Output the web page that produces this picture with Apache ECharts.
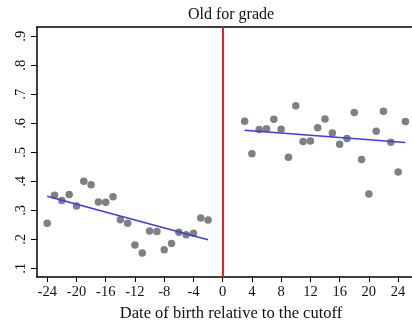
<!DOCTYPE html>
<html>
<head>
<meta charset="utf-8">
<script src="https://cdn.jsdelivr.net/npm/echarts@6/dist/echarts.min.js"></script>
<style>html,body{margin:0;padding:0;background:#fff}#c{width:412px;height:327px}</style>
</head>
<body>
<div id="c"></div>
<script>
// Data
var leftX = [-24,-23,-22,-21,-20,-19,-18,-17,-16,-15,-14,-13,-12,-11,-10,-9,-8,-7,-6,-5,-4,-3,-2];
var leftY = [0.256,0.352,0.334,0.355,0.315,0.400,0.388,0.329,0.328,0.347,0.268,0.256,0.181,0.153,0.229,0.227,0.164,0.186,0.225,0.216,0.221,0.274,0.267];
var rightX = [3,4,5,6,7,8,9,10,11,12,13,14,15,16,17,18,19,20,21,22,23,24,25];
var rightY = [0.607,0.495,0.579,0.581,0.614,0.580,0.483,0.661,0.537,0.539,0.585,0.615,0.567,0.528,0.548,0.637,0.475,0.356,0.573,0.642,0.535,0.432,0.606];
var leftFitX = [-24,-2];
var leftFitY = [0.349,0.199];
var rightFitX = [3,25];
var rightFitY = [0.576,0.534];
var xTicks = [-24,-20,-16,-12,-8,-4,0,4,8,12,16,20,24];
var yTicks = [0.1,0.2,0.3,0.4,0.5,0.6,0.7,0.8,0.9];
var cutoff = 0;
var titleText = 'Old for grade';
var xTitle = 'Date of birth relative to the cutoff';

function pairs(xs, ys){ return xs.map(function(x,i){ return [x, ys[i]]; }); }
var FONT = '"Liberation Serif","Times New Roman",serif';

var chart = echarts.init(document.getElementById('c'), null, {renderer:'canvas'});
chart.setOption({
  animation:false,
  backgroundColor:'#fff',
  title:{text:titleText, left:226, top:2, textAlign:'center',
    textStyle:{fontFamily:FONT, fontSize:16, fontWeight:'normal', color:'#111'}},
  grid:{left:37, right:0, top:27, bottom:40},
  xAxis:[{
    type:'value', min:-25.4, max:25.9,
    axisLine:{show:true, onZero:false, lineStyle:{color:'#000', width:1.5}},
    axisTick:{show:true, customValues:xTicks, length:5, lineStyle:{color:'#000', width:1}},
    axisLabel:{customValues:xTicks, margin:8, fontFamily:FONT, fontSize:14.5, color:'#111'},
    splitLine:{show:false},
    name:xTitle, nameLocation:'middle', nameGap:26,
    nameTextStyle:{fontFamily:FONT, fontSize:16.5, color:'#111', padding:[0,0,0,13]}
  },{
    type:'value', position:'top', min:-25.4, max:25.9,
    axisLine:{show:true, onZero:false, lineStyle:{color:'#000', width:1.5}},
    axisTick:{show:false}, axisLabel:{show:false}, splitLine:{show:false}
  }],
  yAxis:{
    type:'value', min:0.07, max:0.932,
    axisLine:{show:true, onZero:false, lineStyle:{color:'#000', width:1.5}},
    axisTick:{show:true, customValues:yTicks, length:6, lineStyle:{color:'#000', width:1}},
    axisLabel:{customValues:yTicks, rotate:90, margin:8, fontFamily:FONT, fontSize:14.5, color:'#111',
      formatter:function(v){ return String(Math.round(v*10)/10).replace(/^0/, ''); }},
    splitLine:{show:false}
  },
  series:[
    {type:'scatter', data:pairs(leftX,leftY), symbolSize:7.5, itemStyle:{color:'#808080', opacity:1}, z:3},
    {type:'scatter', data:pairs(rightX,rightY), symbolSize:7.5, itemStyle:{color:'#808080', opacity:1}, z:3},
    {type:'line', data:pairs(leftFitX,leftFitY), symbol:'none', lineStyle:{color:'#3c3cf0', width:1.5}, z:4},
    {type:'line', data:pairs(rightFitX,rightFitY), symbol:'none', lineStyle:{color:'#3c3cf0', width:1.5}, z:4,
      markLine:{silent:true, symbol:'none', label:{show:false},
        lineStyle:{color:'#ee1c1c', width:2, type:'solid'}, data:[{xAxis:cutoff}]}}
  ]
});
</script>
</body>
</html>
